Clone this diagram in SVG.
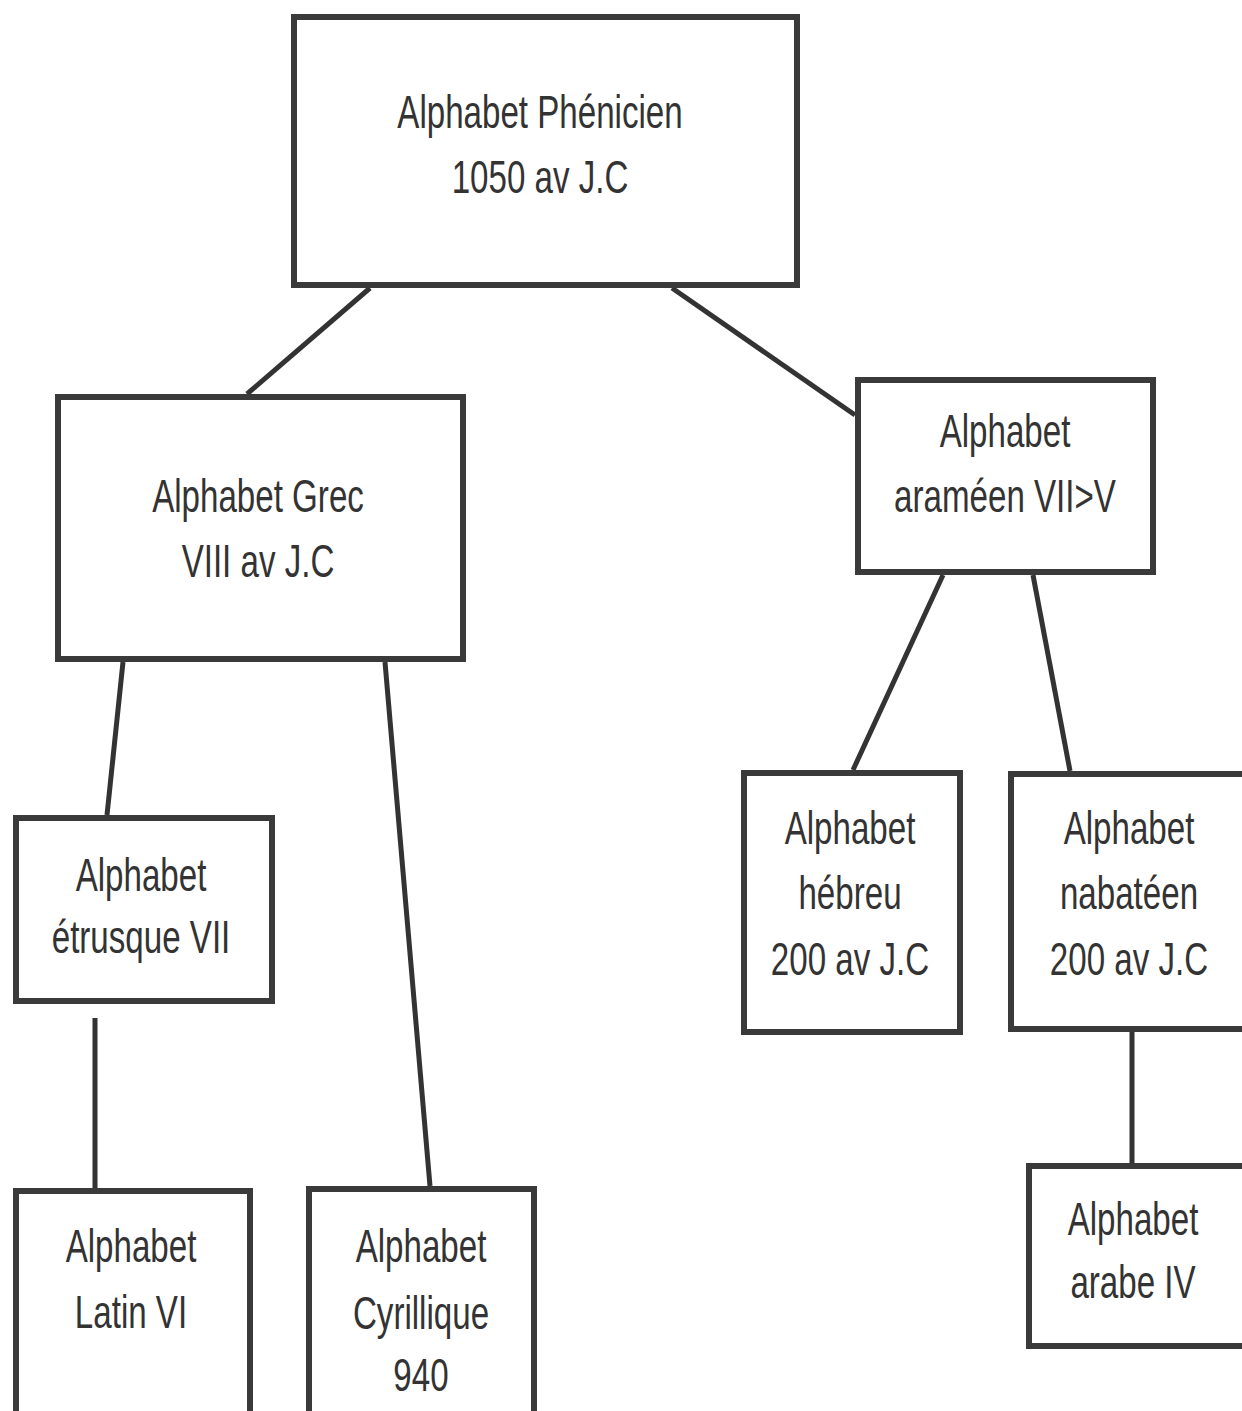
<svg xmlns="http://www.w3.org/2000/svg" width="1242" height="1411" viewBox="0 0 1242 1411">
<style>
.box{fill:#fff;stroke:#3a3a3a;stroke-width:6}
.lbl{font-family:"Liberation Sans",Arial,sans-serif;font-size:46px;fill:#333;text-anchor:middle}
.con line{stroke:#333;stroke-width:5;stroke-linecap:butt}
</style>
<rect width="1242" height="1411" fill="#fff"/>
<g class="con" id="connectors">
<line x1="370" y1="288" x2="247" y2="394"/>
<line x1="672" y1="288" x2="855" y2="415"/>
<line x1="123" y1="662" x2="107" y2="815"/>
<line x1="385" y1="662" x2="430" y2="1186"/>
<line x1="95" y1="1018" x2="95" y2="1188"/>
<line x1="943" y1="575" x2="853" y2="770"/>
<line x1="1033" y1="575" x2="1070" y2="771"/>
<line x1="1132" y1="1032" x2="1132" y2="1163"/>
</g>
<g id="n-phenicien">
<rect class="box" x="294" y="17" width="503" height="268"/>
<g transform="translate(540,-2) scale(0.72,1)"><text class="lbl" x="0" y="130">Alphabet Phénicien</text><text class="lbl" x="0" y="195">1050 av J.C</text></g>
</g>
<g id="n-grec">
<rect class="box" x="58" y="397" width="405" height="262"/>
<g transform="translate(258,-2) scale(0.72,1)"><text class="lbl" x="0" y="514">Alphabet Grec</text><text class="lbl" x="0" y="579">VIII av J.C</text></g>
</g>
<g id="n-arameen">
<rect class="box" x="858" y="380" width="295" height="192"/>
<g transform="translate(1005,-2) scale(0.72,1)"><text class="lbl" x="0" y="449">Alphabet</text><text class="lbl" x="0" y="514">araméen VII&gt;V</text></g>
</g>
<g id="n-etrusque">
<rect class="box" x="16" y="818" width="256" height="183"/>
<g transform="translate(141,-2) scale(0.72,1)"><text class="lbl" x="0" y="893">Alphabet</text><text class="lbl" x="0" y="955">étrusque VII</text></g>
</g>
<g id="n-latin">
<rect class="box" x="16" y="1191" width="234" height="240"/>
<g transform="translate(131,-2) scale(0.72,1)"><text class="lbl" x="0" y="1264">Alphabet</text><text class="lbl" x="0" y="1330">Latin VI</text></g>
</g>
<g id="n-cyrillique">
<rect class="box" x="309" y="1189" width="225" height="240"/>
<g transform="translate(421,-2) scale(0.72,1)"><text class="lbl" x="0" y="1264">Alphabet</text><text class="lbl" x="0" y="1331">Cyrillique</text><text class="lbl" x="0" y="1393">940</text></g>
</g>
<g id="n-hebreu">
<rect class="box" x="744" y="773" width="216" height="259"/>
<g transform="translate(850,-2) scale(0.72,1)"><text class="lbl" x="0" y="846">Alphabet</text><text class="lbl" x="0" y="911">hébreu</text><text class="lbl" x="0" y="977">200 av J.C</text></g>
</g>
<g id="n-nabateen">
<rect class="box" x="1011" y="774" width="260" height="255"/>
<g transform="translate(1129,-2) scale(0.72,1)"><text class="lbl" x="0" y="846">Alphabet</text><text class="lbl" x="0" y="911">nabatéen</text><text class="lbl" x="0" y="977">200 av J.C</text></g>
</g>
<g id="n-arabe">
<rect class="box" x="1029" y="1166" width="250" height="180"/>
<g transform="translate(1133,-2) scale(0.72,1)"><text class="lbl" x="0" y="1237">Alphabet</text><text class="lbl" x="0" y="1300">arabe IV</text></g>
</g>
</svg>
